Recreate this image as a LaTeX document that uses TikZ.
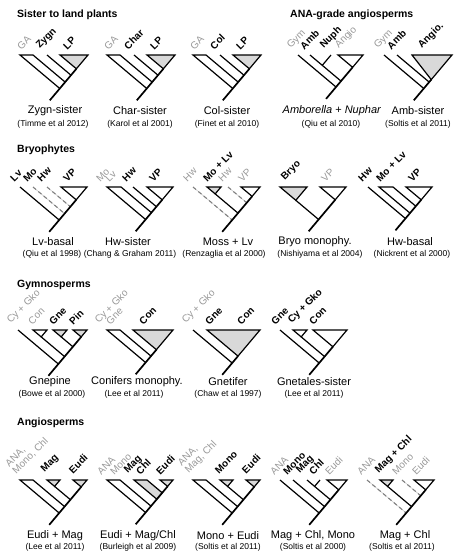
\documentclass[tikz,border=0pt]{standalone}
\usepackage{fontspec}
\setmainfont{Liberation Sans}
\definecolor{tipgray}{gray}{0.6}
\definecolor{cladefill}{gray}{0.85}
\definecolor{dashgray}{gray}{0.5}
\definecolor{faintgray}{gray}{0.8}

\begin{document}
\begin{tikzpicture}[x=1pt, y=-1pt,
    tree/.style={x={(1pt,0pt)}, y={(0.17pt,-0.985pt)}},
    br/.style={line width=1.2pt},
    trunk/.style={line width=1.7pt},
    clade/.style={draw, line width=1.2pt, fill=white},
    hiclade/.style={clade, fill=cladefill},
    amb/.style={draw=dashgray, line width=1.1pt, dash pattern=on 4pt off 3pt,
        preaction={draw=faintgray, line width=0.6pt, solid}},
    lab/.style={rotate=45, anchor=south west, inner sep=0.5pt, font=\bfseries\fontsize{10}{10}\selectfont},
    glab/.style={lab, font=\fontsize{10}{10}\selectfont, text=tipgray, align=left},
    title/.style={anchor=west, inner sep=0pt, font=\bfseries\fontsize{10.5}{12}\selectfont},
    capt/.style={inner sep=0pt, font=\fontsize{11}{13}\selectfont},
    citation/.style={inner sep=0pt, font=\fontsize{8.5}{10}\selectfont}]
\useasboundingbox (0,0) rectangle (455,552);

% Sister to land plants
\node[title] (tSister) at (17,15) {Sister to land plants};
\node[title] (tANA) at (290,15) {ANA-grade angiosperms};

\begin{scope}[shift={(20,55)}, tree]
    \draw[hiclade] (40,0) -- (68,0) -- (54,14) -- cycle;
    \draw[br] (34,34) -- (0,0) -- (13,0) -- (40.5,27.5);
    \draw[br] (27,0) -- (47.5,20.5);
    \draw[trunk] (54,14) -- (22,46);
    \node[glab] (zGA) at (2,-4) {GA};
    \node[lab] (zZygn) at (22,-4) {Zygn};
    \node[lab] (zLP) at (48,-4) {LP};
\end{scope}
\node[capt] (cZygn) at (55,111) {Zygn-sister};
\node[citation] (rZygn) at (53,124) {(Timme et al 2012)};

\begin{scope}[shift={(107,55)}, tree]
    \draw[hiclade] (40,0) -- (68,0) -- (54,14) -- cycle;
    \draw[br] (34,34) -- (0,0) -- (13,0) -- (40.5,27.5);
    \draw[br] (27,0) -- (47.5,20.5);
    \draw[trunk] (54,14) -- (22,46);
    \node[glab] (cGA) at (2,-4) {GA};
    \node[lab] (cChar) at (22,-4) {Char};
    \node[lab] (cLP) at (48,-4) {LP};
\end{scope}
\node[capt] (cChar) at (140,111) {Char-sister};
\node[citation] (rChar) at (140,124) {(Karol et al 2001)};

\begin{scope}[shift={(193,55)}, tree]
    \draw[hiclade] (40,0) -- (68,0) -- (54,14) -- cycle;
    \draw[br] (34,34) -- (0,0) -- (13,0) -- (40.5,27.5);
    \draw[br] (27,0) -- (47.5,20.5);
    \draw[trunk] (54,14) -- (22,46);
    \node[glab] (oGA) at (2,-4) {GA};
    \node[lab] (oCol) at (22,-4) {Col};
    \node[lab] (oLP) at (48,-4) {LP};
\end{scope}
\node[capt] (cCol) at (227,111) {Col-sister};
\node[citation] (rCol) at (227,124) {(Finet et al 2010)};

\begin{scope}[shift={(298,55)}, tree]
    \draw[clade] (40,0) -- (65,0) -- (52.5,12.5) -- cycle;
    \draw[br] (0,0) -- (32.5,32.5);
    \draw[br] (12,0) -- (38.5,26.5);
    \draw[br] (33,0) -- (22.5,10.5);
    \draw[trunk] (52.5,12.5) -- (20.5,44.5);
    \node[glab] (nGym) at (-5,-4) {Gym};
    \node[lab] (nAmb) at (7,-4) {Amb};
    \node[lab] (nNuph) at (28,-4) {Nuph};
    \node[glab] (nAngio) at (43,-4) {Angio};
\end{scope}
\node[capt] (cNuph) at (332,111) {\textit{Amborella} + \textit{Nuphar}};
\node[citation] (rNuph) at (331,124) {(Qiu et al 2010)};

\begin{scope}[shift={(384,55)}, tree]
    \draw[hiclade] (28,0) -- (68,0) -- (43,25) -- cycle;
    \draw[br] (0,0) -- (34,34);
    \draw[br] (13,0) -- (40.5,27.5);
    \draw[trunk] (43,25) -- (22,46);
    \node[glab] (aGym) at (-4,-4) {Gym};
    \node[lab] (aAmb) at (8,-4) {Amb};
    \node[lab] (aAngio) at (40,-4) {Angio.};
\end{scope}
\node[capt] (cAmb) at (418,111) {Amb-sister};
\node[citation] (rAmb) at (418,124) {(Soltis et al 2011)};

% Bryophytes
\node[title] (tBryo) at (17,150) {Bryophytes};

\begin{scope}[shift={(20,187)}, tree]
    \draw[clade] (41,0) -- (67,0) -- (54,13) -- cycle;
    \draw[amb] (13,0) -- (40,27);
    \draw[amb] (27,0) -- (47,20);
    \draw[br] (0,0) -- (33.5,33.5);
    \draw[trunk] (54,13) -- (21.5,45.5);
    \node[lab] (lLv) at (-5,-4) {Lv};
    \node[lab] (lMo) at (8,-4) {Mo};
    \node[lab] (lHw) at (22,-4) {Hw};
    \node[lab] (lVP) at (48,-4) {VP};
\end{scope}
\node[capt] (cLv) at (53,242) {Lv-basal};
\node[citation] (rLv) at (52,254) {(Qiu et al 1998)};

\begin{scope}[shift={(107,187)}, tree]
    \draw[clade] (40,0) -- (66,0) -- (53,13) -- cycle;
    \draw[br] (33,33) -- (0,0) -- (14,0) -- (40,26);
    \draw[br] (26,0) -- (46,20);
    \draw[trunk] (53,13) -- (21,45);
    \node[glab] (hMo) at (-6,-4) {Mo};
    \node[glab] (hLv) at (3,-4) {Lv};
    \node[lab] (hHw) at (20,-4) {Hw};
    \node[lab] (hVP) at (47,-4) {VP};
\end{scope}
\node[capt] (cHw) at (128,242) {Hw-sister};
\node[citation] (rHw) at (130,254) {(Chang \& Graham 2011)};

\begin{scope}[shift={(193,187)}, tree]
    \draw[hiclade] (14,0) -- (28,0) -- (21,7) -- cycle;
    \draw[clade] (48,0) -- (67,0) -- (57.5,9.5) -- cycle;
    \draw[amb] (0,0) -- (33.5,33.5);
    \draw[amb] (35,0) -- (51,16);
    \draw[br] (21,7) -- (40.5,26.5);
    \draw[trunk] (57.5,9.5) -- (21.5,45.5);
    \node[glab] (mHw) at (-5,-4) {Hw};
    \node[lab] (mMoLv) at (15,-4) {Mo + Lv};
    \node[glab] (mHwb) at (30,-4) {Hw};
    \node[glab] (mVP) at (50,-4) {VP};
\end{scope}
\node[capt] (cMoss) at (228,242) {Moss + Lv};
\node[citation] (rMoss) at (224,254) {(Renzaglia et al 2000)};

\begin{scope}[shift={(280,187)}, tree]
    \draw[hiclade] (0,0) -- (27,0) -- (13.5,13.5) -- cycle;
    \draw[clade] (40,0) -- (66,0) -- (53,13) -- cycle;
    \draw[br] (13.5,13.5) -- (33,33);
    \draw[trunk] (53,13) -- (21,45);
    \node[lab] (bBryo) at (7,-4) {Bryo};
    \node[glab] (bVP) at (46,-4) {VP};
\end{scope}
\node[capt] (cBryo) at (315,242) {Bryo monophy.};
\node[citation] (rBryo) at (320,254) {(Nishiyama et al 2004)};

\begin{scope}[shift={(368,187)}, tree]
    \draw[clade] (38,0) -- (64,0) -- (51,13) -- cycle;
    \draw[br] (0,0) -- (32,32);
    \draw[br] (37.5,26.5) -- (11,0) -- (25,0) -- (44.5,19.5);
    \draw[trunk] (51,13) -- (20,44);
    \node[lab] (wHw) at (-5,-4) {Hw};
    \node[lab] (wMoLv) at (13,-4) {Mo + Lv};
    \node[lab] (wVP) at (45,-4) {VP};
\end{scope}
\node[capt] (cHwb) at (410,242) {Hw-basal};
\node[citation] (rHwb) at (412,254) {(Nickrent et al 2000)};

% Gymnosperms
\node[title] (tGym) at (17,285) {Gymnosperms};

\begin{scope}[shift={(18,330)}, tree]
    \draw[clade] (15,0) -- (29,0) -- (22,7) -- cycle;
    \draw[hiclade] (35,0) -- (49,0) -- (42,7) -- cycle;
    \draw[hiclade] (55,0) -- (69,0) -- (62,7) -- cycle;
    \draw[br] (0,0) -- (34.5,34.5);
    \draw[br] (22,7) -- (42,27);
    \draw[br] (42,7) -- (52,17);
    \draw[trunk] (62,7) -- (22.5,46.5);
    \node[glab] (gCy) at (-5,-4) {Cy + Gko};
    \node[glab] (gCon) at (15,-4) {Con};
    \node[lab] (gGne) at (36,-4) {Gne};
    \node[lab] (gPin) at (56,-4) {Pin};
\end{scope}
\node[capt] (cGnepine) at (50,382) {Gnepine};
\node[citation] (rGnepine) at (52,394) {(Bowe et al 2000)};

\begin{scope}[shift={(107,330)}, tree]
    \draw[hiclade] (26,0) -- (66,0) -- (46,20) -- cycle;
    \draw[br] (33,33) -- (0,0) -- (13,0) -- (39.5,26.5);
    \draw[trunk] (46,20) -- (21,45);
    \node[glab] (fCy) at (-6,-4) {Cy + Gko};
    \node[glab] (fGne) at (4,-4) {Gne};
    \node[lab] (fCon) at (37,-4) {Con};
\end{scope}
\node[capt] (cConif) at (137,382) {Conifers monophy.};
\node[citation] (rConif) at (134,394) {(Lee et al 2011)};

\begin{scope}[shift={(193,330)}, tree]
    \draw[hiclade] (14,0) -- (67,0) -- (40.5,26.5) -- cycle;
    \draw[br] (0,0) -- (33.5,33.5);
    \draw[trunk] (40.5,26.5) -- (21.5,45.5);
    \node[glab] (eCy) at (-5,-4) {Cy + Gko};
    \node[lab] (eGne) at (17,-4) {Gne};
    \node[lab] (eCon) at (49,-4) {Con};
\end{scope}
\node[capt] (cGnetifer) at (228,382) {Gnetifer};
\node[citation] (rGnetifer) at (228,394) {(Chaw et al 1997)};

\begin{scope}[shift={(280,330)}, tree]
    \draw[clade] (13,0) -- (27,0) -- (20,7) -- cycle;
    \draw[clade] (33,0) -- (67,0) -- (50,17) -- cycle;
    \draw[br] (0,0) -- (33.5,33.5);
    \draw[br] (20,7) -- (40,27);
    \draw[trunk] (50,17) -- (21.5,45.5);
    \node[lab] (sGne) at (-4,-4) {Gne};
    \node[lab] (sCy) at (14,-4) {Cy + Gko};
    \node[lab] (sCon) at (34,-4) {Con};
\end{scope}
\node[capt] (cGnetales) at (314,382) {Gnetales-sister};
\node[citation] (rGnetales) at (314,394) {(Lee et al 2011)};

% Angiosperms
\node[title] (tAngio) at (17,423) {Angiosperms};

\begin{scope}[shift={(20,480)}, tree]
    \draw[hiclade] (27,0) -- (40,0) -- (33.5,6.5) -- cycle;
    \draw[hiclade] (53,0) -- (67,0) -- (60,7) -- cycle;
    \draw[br] (33.5,33.5) -- (0,0) -- (13,0) -- (40,27);
    \draw[br] (33.5,6.5) -- (47,20);
    \draw[trunk] (60,7) -- (21.5,45.5);
    \node[glab] (uANA) at (-2,-4) {ANA,\\Mono, Chl};
    \node[lab] (uMag) at (27,-5) {Mag};
    \node[lab] (uEudi) at (54,-5) {Eudi};
\end{scope}
\node[capt] (cEudiMag) at (55,536) {Eudi + Mag};
\node[citation] (rEudiMag) at (55,547) {(Lee et al 2011)};

\begin{scope}[shift={(107,480)}, tree]
    \draw[hiclade] (27,0) -- (40,0) -- (53,13) -- (46.5,19.5) -- cycle;
    \draw[hiclade] (53,0) -- (66,0) -- (59.5,6.5) -- cycle;
    \draw[br] (33,33) -- (0,0) -- (13,0) -- (39.5,26.5);
    \draw[trunk] (59.5,6.5) -- (21,45);
    \node[glab] (vANA) at (-5,-4) {ANA};
    \node[glab] (vMono) at (8,-4) {Mono};
    \node[lab] (vMag) at (23,-4) {Mag};
    \node[lab] (vChl) at (34,-4) {Chl};
    \node[lab] (vEudi) at (54,-4) {Eudi};
\end{scope}
\node[capt] (cEudiMagChl) at (138,536) {Eudi + Mag/Chl};
\node[citation] (rEudiMagChl) at (138,547) {(Burleigh et al 2009)};

\begin{scope}[shift={(193,480)}, tree]
    \draw[hiclade] (27,0) -- (40,0) -- (33.5,6.5) -- cycle;
    \draw[hiclade] (53,0) -- (67,0) -- (60,7) -- cycle;
    \draw[br] (33.5,33.5) -- (0,0) -- (13,0) -- (40,27);
    \draw[br] (33.5,6.5) -- (47,20);
    \draw[trunk] (60,7) -- (21.5,45.5);
    \node[glab] (pANA) at (-2,-4) {ANA,\\Mag, Chl};
    \node[lab] (pMono) at (27,-5) {Mono};
    \node[lab] (pEudi) at (54,-5) {Eudi};
\end{scope}
\node[capt] (cMonoEudi) at (228,536) {Mono + Eudi};
\node[citation] (rMonoEudi) at (228,547) {(Soltis et al 2011)};

\begin{scope}[shift={(280,480)}, tree]
    \draw[clade] (47,0) -- (67,0) -- (57,10) -- cycle;
    \draw[br] (0,0) -- (33.5,33.5);
    \draw[br] (13,0) -- (40,27);
    \draw[br] (27,0) -- (47,20);
    \draw[br] (40,0) -- (33.5,6.5);
    \draw[trunk] (57,10) -- (21.5,45.5);
    \node[glab] (qANA) at (-5,-4) {ANA};
    \node[lab] (qMono) at (8,-4) {Mono};
    \node[lab] (qMag) at (22,-4) {Mag};
    \node[lab] (qChl) at (34,-4) {Chl};
    \node[glab] (qEudi) at (50,-4) {Eudi};
\end{scope}
\node[capt] (cMagChlMono) at (313,536) {Mag + Chl, Mono};
\node[citation] (rMagChlMono) at (313,547) {(Soltis et al 2000)};

\begin{scope}[shift={(367,480)}, tree]
    \draw[hiclade] (13,0) -- (26,0) -- (19.5,6.5) -- cycle;
    \draw[clade] (47,0) -- (67,0) -- (57,10) -- cycle;
    \draw[amb] (0,0) -- (33.5,33.5);
    \draw[amb] (35,0) -- (51,16);
    \draw[br] (19.5,6.5) -- (40,27);
    \draw[trunk] (57,10) -- (21.5,45.5);
    \node[glab] (kANA) at (-5,-4) {ANA};
    \node[lab] (kMagChl) at (14,-4) {Mag + Chl};
    \node[glab] (kMono) at (30,-4) {Mono};
    \node[glab] (kEudi) at (50,-4) {Eudi};
\end{scope}
\node[capt] (cMagChl) at (405,536) {Mag + Chl};
\node[citation] (rMagChl) at (402,547) {(Soltis et al 2011)};
\end{tikzpicture}
\end{document}
